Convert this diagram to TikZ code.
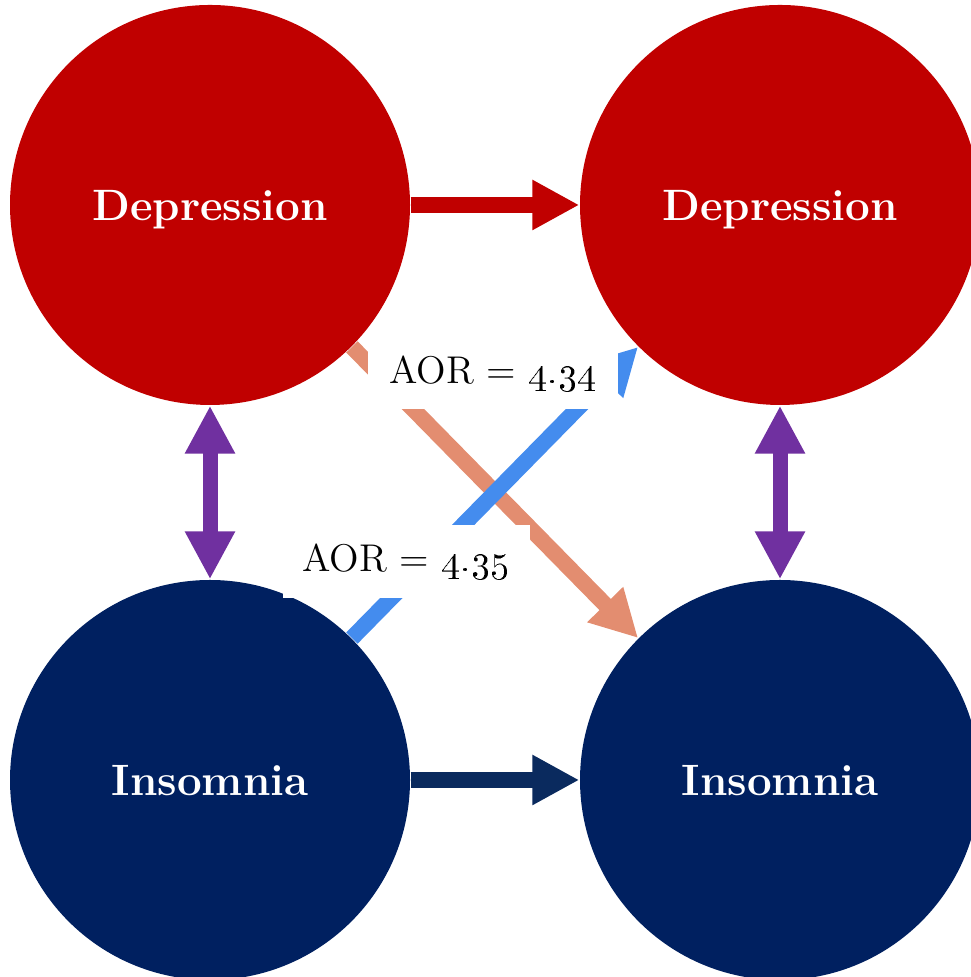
\documentclass[tikz,border=0pt]{standalone}
\usetikzlibrary{arrows.meta}

\definecolor{deepred}{HTML}{C00000}
\definecolor{deepnavy}{HTML}{002060}
\definecolor{arrownavy}{HTML}{0A2A5E}
\definecolor{violet}{HTML}{7030A0}
\definecolor{salmon}{HTML}{E38D70}
\definecolor{skyblue}{HTML}{448CEE}

\begin{document}
\begin{tikzpicture}[
  state/.style={circle,minimum size=4cm,inner sep=0pt,text depth=0pt,text=white,font=\fontsize{12.5}{15}\selectfont\bfseries},
  link/.style={line width=0.16cm,-{Triangle[length=0.47cm,width=0.47cm]}},
  both/.style={line width=0.15cm,{Triangle[length=0.48cm,width=0.47cm]}-{Triangle[length=0.48cm,width=0.47cm]}},
  aor/.style={fill=white,minimum width=2.5cm,minimum height=0.72cm,inner sep=0pt,font=\fontsize{11}{13}\selectfont}
]
\useasboundingbox (0,0) rectangle (9.70,9.77);

\path (2.10,7.72) node[state,fill=deepred](dl){Depression} ;
\path (7.80,7.72) node[state,fill=deepred](dr){Depression} ;
\path (2.10,1.97) node[state,fill=deepnavy](il){Insomnia} ;
\path (7.80,1.97) node[state,fill=deepnavy](ir){Insomnia} ;

\draw[both,violet] (dl.south) -- (il.north);
\draw[both,violet] (dr.south) -- (ir.north);
\draw[link,deepred] (dl.east) -- (dr.west);
\draw[link,arrownavy] (il.east) -- (ir.west);
\draw[link,salmon] (dl.south east) -- (ir.north west);
\draw[link,skyblue] (il.north east) -- (dr.south west);

\path (4.93,6.04) node[aor](a1){AOR = \oldstylenums{4.34}} ;
\path (4.06,4.155) node[aor,minimum width=2.47cm,minimum height=0.73cm](a2){AOR = \oldstylenums{4.35}} ;

\end{tikzpicture}
\end{document}
